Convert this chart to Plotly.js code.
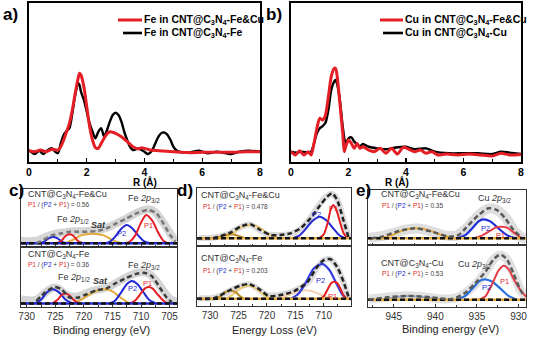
<!DOCTYPE html>
<html><head><meta charset="utf-8">
<script src="https://cdn.plot.ly/plotly-3.0.1.min.js"></script>
<style>html,body{margin:0;padding:0;background:#fff}#chart{width:533px;height:339px}</style>
</head><body><div id="chart"></div>
<script>
// ---------- panel a (Fe EXAFS) ----------
const aR_x = [0,0.2,0.4,0.6,0.8,1.0,1.1,1.2,1.3,1.4,1.5,1.6,1.7,1.75,1.8,1.9,2.0,2.1,2.2,2.3,2.4,2.5,2.6,2.7,2.8,2.9,3.0,3.2,3.4,3.6,3.8,3.9,4.0,4.2,4.5,5.0,5.5,6.0,6.5,7.0,7.5,8.0];
const aRed = [0.71,0.65,0.75,0.65,0.8,0.75,0.96,1.38,1.9,2.43,3.27,4.32,5.26,5.58,5.47,4.74,3.48,2.22,1.38,0.9,0.86,1.17,1.49,1.76,1.9,1.87,1.8,1.59,1.28,0.96,0.82,0.9,0.86,0.75,0.71,0.65,0.59,0.61,0.61,0.61,0.65,0.65];
const aK_x = [0,0.2,0.35,0.5,0.65,0.8,0.9,1.0,1.1,1.2,1.3,1.4,1.5,1.6,1.7,1.75,1.8,1.9,2.0,2.1,2.2,2.3,2.4,2.5,2.6,2.7,2.8,2.9,3.0,3.1,3.2,3.3,3.4,3.5,3.6,3.7,3.8,3.9,4.0,4.1,4.2,4.3,4.4,4.5,4.6,4.7,4.8,4.9,5.0,5.1,5.2,5.5,5.9,6.2,6.5,7.0,7.3,7.6,8.0];
const aBlk = [0.75,0.5,0.71,0.5,0.75,0.86,0.65,0.55,1.17,1.7,1.95,2.12,3.06,4.21,4.95,4.84,4.42,3.9,3.17,2.43,1.9,1.49,1.9,2.12,1.6,2.0,2.54,2.96,3.1,2.96,2.54,1.9,1.38,0.96,0.75,0.8,0.86,0.75,0.65,0.5,0.59,0.86,1.28,1.64,1.84,1.84,1.7,1.38,0.96,0.75,0.65,0.59,0.71,0.55,0.65,0.5,0.65,0.71,0.65];
// ---------- panel b (Cu EXAFS) ----------
const bR_x = [0,0.15,0.3,0.45,0.6,0.7,0.8,0.9,1.0,1.1,1.2,1.3,1.4,1.5,1.55,1.6,1.7,1.8,1.85,1.9,2.0,2.1,2.2,2.3,2.4,2.5,2.7,2.9,3.1,3.3,3.5,3.7,3.9,4.1,4.3,4.5,4.7,4.9,5.1,5.4,5.8,6.2,6.6,7.0,7.3,7.6,8.0];
const bRed = [0.65,0.44,0.71,0.44,0.65,0.44,1.17,2.12,2.75,2.64,2.96,4.11,5.37,5.89,5.89,5.47,3.69,1.8,0.65,0.96,1.38,1.17,0.86,1.17,0.86,0.96,0.75,0.65,0.86,0.55,0.86,0.5,0.92,0.8,0.65,0.75,0.55,0.65,0.44,0.5,0.44,0.5,0.44,0.38,0.55,0.44,0.48];
const bK_x = [0,0.2,0.4,0.6,0.7,0.8,0.9,1.0,1.1,1.2,1.3,1.4,1.5,1.55,1.6,1.7,1.8,1.9,2.0,2.1,2.2,2.4,2.5,2.7,3.0,3.3,3.6,4.0,4.3,4.7,5.0,5.5,6.0,6.5,7.0,7.3,7.6,8.0];
const bBlk = [0.65,0.59,0.65,0.59,0.65,1.17,1.8,2.12,2.26,2.47,3.27,4.53,5.05,5.16,4.95,3.9,2.22,1.17,1.49,1.55,1.28,1.0,1.13,0.96,0.86,0.8,0.9,0.96,0.8,0.86,0.65,0.55,0.55,0.55,0.5,0.65,0.59,0.5];

// ---------- panel c top (Fe 2p XPS, CNT@C3N4-Fe&Cu) ----------
const cT_raw_x = [731,729.5,728,726.5,725,723.5,722,720.5,719,717.5,716,714.5,713,711.5,710,708.7,707.5,706.3,705.2,704.2,703.7];
const cT_raw = [1.1,1.0,1.2,1.8,2.3,2.5,2.7,2.7,2.8,2.9,3.3,4.0,4.7,5.5,6.2,6.5,6.0,4.5,2.8,1.4,1.1];
const cT_env_x = [728.3,727.7,725.4,723.9,722.5,721.0,719.5,717.8,716.0,714.3,712.5,710.8,708.7,707.3,706.1,704.9,704.0];
const cT_env = [0.7,0.92,2.07,2.36,2.64,2.64,2.64,2.76,3.22,4.08,4.94,5.8,6.38,5.8,4.08,2.07,0.92];
const cT_p1_x = [713,712,711,710,709.1,708,707,706,705];
const cT_p1 = [0.63,0.9,2.0,4.2,5.52,4.5,2.5,1.0,0.63];
const cT_p2_x = [716.5,715.5,714.5,713.5,712.5,711.5,710.5,709.5,708.3];
const cT_p2 = [0.63,0.9,1.8,3.1,3.79,3.2,2.0,1.0,0.63];
const cT_b12_x = [728,727,726.2,725.4,724.6,723.8,723];
const cT_b12 = [0.63,0.9,1.5,1.78,1.5,0.9,0.63];
const cT_r12_x = [725,724,723.2,722.5,721.8,721,720];
const cT_r12 = [0.63,1.0,1.9,2.18,1.9,1.0,0.63];
const cT_sat_x = [723.5,722,720.5,718.5,716.5,715,713.5];
const cT_sat = [0.63,1.2,2.0,2.3,2.0,1.2,0.63];
const cT_base_x = [731,703.7];
const cT_base = [0.63,0.63];

// ---------- panel c bottom (CNT@C3N4-Fe) ----------
const cB_raw_x = [731,729.5,728.3,727,725.5,724.5,723,721.5,720,718.5,717,715.5,714,712.5,711,709.8,708.5,707.2,706,705,704.2,703.7];
const cB_raw = [1.3,1.1,1.2,2.2,3.2,3.1,2.0,1.7,2.1,2.7,3.0,3.4,4.2,5.0,5.6,5.8,5.5,4.2,2.6,1.4,1.0,0.9];
const cB_env_x = [728.3,726.8,725.1,723.9,722.5,721.0,719.5,717.8,716.0,714.3,712.5,710.8,709.3,708.1,706.7,705.5,704.6];
const cB_env = [0.98,2.4,3.33,2.95,1.58,1.58,2.13,2.79,3.11,4.04,4.86,5.52,5.68,5.14,3.22,1.58,0.76];
const cB_p1_x = [712,711,710,709.3,708.7,708,707,706,705.3];
const cB_p1 = [0.6,1.1,2.3,3.1,3.33,3.1,2.0,1.0,0.6];
const cB_p2_x = [715.5,714.5,713.5,712.5,711.6,710.6,709.6,708.6,707.4];
const cB_p2 = [0.6,1.1,2.4,3.8,4.32,3.8,2.5,1.2,0.6];
const cB_b12_x = [728.5,727.5,726.5,725.4,724.3,723.2,722];
const cB_b12 = [0.6,1.2,2.4,2.95,2.4,1.2,0.6];
const cB_r12_x = [725.5,724.6,723.9,723.3,722.6,721.8,721];
const cB_r12 = [0.6,1.2,2.0,2.24,2.0,1.2,0.6];
const cB_sat_x = [722,720.5,719,717.5,716.3,715,713.5,712];
const cB_sat = [0.6,1.2,2.1,2.8,2.95,2.6,1.5,0.6];
const cB_base_x = [731,703.7];
const cB_base = [0.6,0.6];

// ---------- panel d top (Fe L-edge EELS, CNT@C3N4-Fe&Cu) ----------
const dT_raw_x = [732,730,728.5,727,725.5,724,722.9,721.5,720,718.5,717,715.5,714,712.5,711,709.8,708.6,707.6,706.6,705.6,705];
const dT_raw = [1.4,1.4,1.6,2.0,2.8,3.5,3.7,2.9,2.0,1.9,1.9,2.2,3.0,4.7,6.8,8.3,9.0,8.0,4.8,1.8,1.4];
const dT_env_x = [732.3,729.35,726.42,724.66,722.9,721.14,719.38,717.62,715.86,714.1,712.34,710.58,709.4,708.52,707.64,706.46,705.58];
const dT_env = [1.32,1.4,2.3,3.33,3.74,2.76,1.9,1.9,2.18,3.05,4.77,7.07,8.5,9.08,7.93,4.2,1.32];
const dT_p1_x = [710.8,710,709.3,708.8,708.35,707.8,707.2,706.5,705.8];
const dT_p1 = [1.32,2.0,4.0,6.2,7.07,6.3,4.3,2.2,1.32];
const dT_p2_x = [715.5,714.3,713.2,712,710.7,709.5,708.3,707.2,706.2];
const dT_p2 = [1.32,1.8,2.9,4.3,5.05,4.4,3.0,1.8,1.32];
const dT_o1_x = [729.2,728.2,727.3,726.4,725.5,724.6,723.7];
const dT_o1 = [1.32,1.6,1.9,2.01,1.9,1.6,1.32];
const dT_o2_x = [727.8,726.2,724.6,722.9,721.2,719.6,718];
const dT_o2 = [1.32,2.0,3.2,3.62,3.1,2.0,1.32];
const dT_base_x = [732.3,705.2];
const dT_base = [1.32,1.32];

// ---------- panel d bottom (CNT@C3N4-Fe) ----------
const dB_raw_x = [732,730,728.5,727,725.5,724,723,721.5,720,718.5,717,715.5,714,712.5,711.2,710,708.8,707.6,706.5,705.6,705];
const dB_raw = [1.3,1.3,1.6,2.3,3.0,3.5,3.6,2.8,1.8,1.8,2.0,2.4,3.1,4.2,6.4,7.6,7.8,6.4,3.9,1.5,1.3];
const dB_env_x = [732.3,729.35,726.42,724.66,723.19,721.43,719.67,717.62,715.27,712.93,711.17,709.99,708.81,707.64,706.46,705.58];
const dB_env = [1.2,1.3,2.7,3.39,3.65,2.86,1.66,1.82,2.45,3.91,6.51,7.66,7.81,6.51,3.91,1.3];
const dB_p1_x = [710.8,710,709.3,708.7,708.2,707.6,707,706.4,705.8];
const dB_p1 = [1.2,1.6,2.8,3.8,4.06,3.8,2.8,1.6,1.2];
const dB_p2_x = [715.8,714.5,713.2,711.8,710.3,709,707.8,706.8,706];
const dB_p2 = [1.2,2.0,3.8,6.2,7.03,6.0,3.8,2.0,1.2];
const dB_o1_x = [729,728.2,727.3,726.4,725.5,724.7,723.9];
const dB_o1 = [1.2,1.6,2.3,2.6,2.3,1.6,1.2];
const dB_o2_x = [727.2,725.9,724.5,723.2,721.9,720.6,719.3];
const dB_o2 = [1.2,2.0,3.0,3.39,2.9,1.9,1.2];
const dB_o3_x = [718.4,716.8,715.2,713.6,712.2,710.8,709.5,708.2];
const dB_o3 = [1.2,1.6,2.2,2.6,2.5,2.0,1.5,1.2];
const dB_base_x = [732.3,705.2];
const dB_base = [1.2,1.2];

// ---------- panel e top (Cu 2p XPS, CNT@C3N4-Fe&Cu) ----------
const eT_raw_x = [948,946.5,945,943.5,942,940.5,939,937.5,936.3,935.2,934.2,933.3,932.4,931.5,930.6,929.6,929.1];
const eT_raw = [1.3,1.6,2.2,2.8,3.0,2.5,1.8,1.7,3.0,4.8,6.2,6.7,6.2,4.9,2.8,1.4,1.2];
const eT_env_x = [947.7,946.4,944.4,942.4,940.4,938.4,937.2,936.0,934.8,933.6,932.6,931.6,930.6,929.6];
const eT_env = [1.21,1.52,2.55,3.03,2.42,1.52,1.82,3.64,5.45,6.67,6.36,4.85,2.73,1.33];
const eT_p1_x = [935.4,934.4,933.4,932.7,932,931.3,930.5,929.6];
const eT_p1 = [1.21,1.7,2.6,3.2,3.33,3.1,2.2,1.21];
const eT_p2_x = [937.4,936.4,935.4,934.8,934.2,933.4,932.4,931.4,930.4];
const eT_p2 = [1.21,1.8,3.3,4.3,4.67,4.3,3.0,1.8,1.21];
const eT_sat_x = [946.6,945.2,943.8,942.4,941,939.6,938.2,937.4];
const eT_sat = [1.21,1.8,2.7,3.03,2.8,2.0,1.4,1.21];
const eT_base_x = [948.1,929.1];
const eT_base = [1.21,1.21];

// ---------- panel e bottom (CNT@C3N4-Cu) ----------
const eB_raw_x = [948,946.5,945,943.5,942,940.5,939,937.5,936.3,935.2,934,933,932.2,931.4,930.6,929.8,929.1];
const eB_raw = [1.3,1.5,1.7,1.8,1.75,1.5,1.3,1.5,2.4,3.6,5.6,7.7,8.4,7.7,5.4,2.8,1.6];
const eB_env_x = [948.0,946.0,943.2,940.4,938.0,936.4,935.2,934.0,933.0,932.2,931.4,930.6,929.8,929.3];
const eB_env = [1.18,1.54,1.79,1.54,1.28,2.31,3.85,5.64,7.69,8.46,7.69,5.38,2.82,1.79];
const eB_p1_x = [934.8,934,933.2,932.4,931.8,931.2,930.5,929.6,929];
const eB_p1 = [1.18,1.7,3.6,5.9,6.67,6.1,4.3,2.4,1.6];
const eB_p2_x = [937.4,936.4,935.4,934.7,934,933.2,932.2,931.2,930.2];
const eB_p2 = [1.18,1.8,3.2,4.2,4.46,4.1,3.0,1.8,1.18];
const eB_sat_x = [947,945.5,944.2,943.2,942,940.5,939,938];
const eB_sat = [1.18,1.4,1.7,1.79,1.7,1.45,1.25,1.18];
const eB_base_x = [948.1,929.1];
const eB_base = [1.18,1.18];

// tick labels
const rTicks = [0,2,4,6,8];
const feTicks = [730,725,720,715,710,705];
const eelsTicks = [730,725,720,715,710];
const cuTicks = [945,940,935,930];

// ---------- styles ----------
const FONT = 'Liberation Sans, Arial, Helvetica, sans-serif';
const RED = 'rgb(228,30,36)', BLUE = 'rgb(35,40,215)', ORANGE = 'rgb(228,170,60)';
const DASH = '5px,3px';
const traces = [];
function L(x, y, n, color, width, dash, opacity, shape) {
  const s = n === 1 ? '' : String(n);
  traces.push({x: x, y: y, xaxis: 'x' + s, yaxis: 'y' + s, type: 'scatter', mode: 'lines',
    line: {color: color, width: width, dash: dash || 'solid', shape: shape || 'spline', smoothing: 0.7},
    opacity: opacity == null ? 1 : opacity, hoverinfo: 'skip', showlegend: false});
}
// a, b
L(aK_x, aBlk, 1, '#000', 2.4);
L(aR_x, aRed, 1, RED, 3);
L(bK_x, bBlk, 2, '#000', 2.4);
L(bR_x, bRed, 2, RED, 3);
// c top
L(cT_raw_x, cT_raw, 3, 'rgb(185,185,185)', 8, null, 0.6);
L(cT_sat_x, cT_sat, 3, ORANGE, 2);
L(cT_b12_x, cT_b12, 3, BLUE, 2);
L(cT_r12_x, cT_r12, 3, RED, 2);
L(cT_p2_x, cT_p2, 3, BLUE, 2);
L(cT_p1_x, cT_p1, 3, RED, 2);
L(cT_base_x, cT_base, 3, BLUE, 2.5, null, 1, 'linear');
L(cT_base_x, cT_base, 3, '#111', 2.5, DASH, 1, 'linear');
L(cT_env_x, cT_env, 3, 'rgb(120,120,120)', 2.5, DASH);
// c bottom
L(cB_raw_x, cB_raw, 4, 'rgb(185,185,185)', 8, null, 0.6);
L(cB_sat_x, cB_sat, 4, ORANGE, 2);
L(cB_b12_x, cB_b12, 4, BLUE, 2);
L(cB_r12_x, cB_r12, 4, RED, 2);
L(cB_p2_x, cB_p2, 4, BLUE, 2);
L(cB_p1_x, cB_p1, 4, RED, 2);
L(cB_base_x, cB_base, 4, BLUE, 2.5, null, 1, 'linear');
L(cB_base_x, cB_base, 4, '#111', 2.5, DASH, 1, 'linear');
L(cB_env_x, cB_env, 4, 'rgb(60,60,60)', 2.5, DASH);
// d top
L(dT_raw_x, dT_raw, 5, 'rgb(190,190,190)', 6, null, 0.55);
L(dT_o2_x, dT_o2, 5, 'rgb(236,205,120)', 2);
L(dT_o1_x, dT_o1, 5, 'rgb(185,140,40)', 2);
L(dT_p2_x, dT_p2, 5, BLUE, 2);
L(dT_p1_x, dT_p1, 5, RED, 2);
L(dT_base_x, dT_base, 5, ORANGE, 2.5, null, 1, 'linear');
L(dT_base_x, dT_base, 5, '#111', 2.5, DASH, 1, 'linear');
L(dT_env_x, dT_env, 5, '#222', 2.5, DASH);
// d bottom
L(dB_raw_x, dB_raw, 6, 'rgb(190,190,190)', 6, null, 0.55);
L(dB_o3_x, dB_o3, 6, 'rgb(245,210,175)', 2);
L(dB_o2_x, dB_o2, 6, 'rgb(236,205,120)', 2);
L(dB_o1_x, dB_o1, 6, 'rgb(185,140,40)', 2);
L(dB_p2_x, dB_p2, 6, 'rgb(50,60,225)', 2.2);
L(dB_p1_x, dB_p1, 6, RED, 2);
L(dB_base_x, dB_base, 6, ORANGE, 2.5, null, 1, 'linear');
L(dB_base_x, dB_base, 6, '#111', 2.5, DASH, 1, 'linear');
L(dB_env_x, dB_env, 6, '#222', 2.5, DASH);
// e top
L(eT_raw_x, eT_raw, 7, 'rgb(195,195,195)', 10, null, 0.55);
L(eT_sat_x, eT_sat, 7, ORANGE, 2);
L(eT_p2_x, eT_p2, 7, 'rgb(30,45,215)', 2.2);
L(eT_p1_x, eT_p1, 7, 'rgb(230,60,70)', 2);
L(eT_base_x, eT_base, 7, ORANGE, 2.5, null, 1, 'linear');
L(eT_base_x, eT_base, 7, '#111', 2.5, DASH, 1, 'linear');
L(eT_env_x, eT_env, 7, 'rgb(90,90,90)', 2.5, DASH);
// e bottom
L(eB_raw_x, eB_raw, 8, 'rgb(195,195,195)', 9, null, 0.5);
L(eB_sat_x, eB_sat, 8, 'rgb(150,170,200)', 2);
L(eB_p2_x, eB_p2, 8, 'rgb(40,110,220)', 2.2);
L(eB_p1_x, eB_p1, 8, 'rgb(230,60,70)', 2);
L(eB_base_x, eB_base, 8, ORANGE, 2.5, null, 1, 'linear');
L(eB_base_x, eB_base, 8, '#111', 2.5, DASH, 1, 'linear');
L(eB_env_x, eB_env, 8, 'rgb(90,90,90)', 2.5, DASH);

// ---------- layout ----------
const W = 533, H = 339;
const dx = (a, b) => [a / W, b / W];
const dy = (top, bot) => [1 - bot / H, 1 - top / H];
function rAxis(dom, anchor) {
  return {domain: dom, anchor: anchor, range: [0, 8], tickmode: 'array', tickvals: rTicks,
    ticks: 'inside', ticklen: 4, tickwidth: 1.3, tickcolor: '#000',
    minor: {tickvals: [1, 3, 5, 7], ticks: 'inside', ticklen: 3, tickwidth: 1.1, tickcolor: '#000'},
    showline: true, mirror: true, linecolor: '#000', linewidth: 1.6,
    showgrid: false, zeroline: false,
    tickfont: {family: FONT, size: 10.5, weight: 'bold', color: '#000'}};
}
function eAxis(dom, anchor, range, tv, labels) {
  return {domain: dom, anchor: anchor, range: range, tickmode: 'array', tickvals: tv,
    ticks: 'inside', ticklen: 3, tickwidth: 1, tickcolor: '#333',
    minor: {dtick: 2.5, ticks: 'inside', ticklen: 2, tickwidth: 1, tickcolor: '#333'},
    showline: true, mirror: true, linecolor: '#333', linewidth: 1.3,
    showgrid: false, zeroline: false, showticklabels: labels,
    tickfont: {family: FONT, size: 10, color: '#333'}};
}
function yAx(dom, anchor, lw, lc) {
  return {domain: dom, anchor: anchor, range: [0, 10], showline: true, mirror: true,
    linecolor: lc, linewidth: lw, ticks: '', showticklabels: false, showgrid: false, zeroline: false, fixedrange: true};
}
const cR = [731, 703.7], dR = [732.3, 705.2], eR = [948.1, 929.1];
const layout = {
  width: W, height: H, margin: {l: 0, r: 0, t: 0, b: 0},
  paper_bgcolor: '#fff', plot_bgcolor: 'rgba(0,0,0,0)', showlegend: false,
  font: {family: FONT},
  xaxis: rAxis(dx(29, 260), 'y'), yaxis: yAx(dy(3, 162), 'x', 1.6, '#000'),
  xaxis2: rAxis(dx(291, 521), 'y2'), yaxis2: yAx(dy(3, 162), 'x2', 1.6, '#000'),
  xaxis3: eAxis(dx(21, 177), 'y3', cR, feTicks, false), yaxis3: yAx(dy(189, 247), 'x3', 1.3, '#333'),
  xaxis4: eAxis(dx(21, 177), 'y4', cR, feTicks, true), yaxis4: yAx(dy(247, 307), 'x4', 1.3, '#333'),
  xaxis5: eAxis(dx(197, 351), 'y5', dR, eelsTicks, false), yaxis5: yAx(dy(188, 246), 'x5', 1.3, '#333'),
  xaxis6: eAxis(dx(197, 351), 'y6', dR, eelsTicks, true), yaxis6: yAx(dy(246, 306), 'x6', 1.3, '#333'),
  xaxis7: eAxis(dx(368, 526), 'y7', eR, cuTicks, false), yaxis7: yAx(dy(190, 245), 'x7', 1.3, '#333'),
  xaxis8: eAxis(dx(368, 526), 'y8', eR, cuTicks, true), yaxis8: yAx(dy(245, 307), 'x8', 1.3, '#333'),
  annotations: [], shapes: []
};
function ann(text, px, py, size, color, opts) {
  const o = Object.assign({xref: 'paper', yref: 'paper', x: px / W, y: 1 - py / H, xanchor: 'left', yanchor: 'middle',
    showarrow: false, text: text, borderpad: 0,
    font: {family: FONT, size: size, color: color}}, opts || {});
  if (opts && opts.weight) { o.font.weight = opts.weight; delete o.weight; }
  layout.annotations.push(o);
}
function key(x0, x1, py, color, w) {
  layout.shapes.push({type: 'line', xref: 'paper', yref: 'paper', x0: x0 / W, x1: x1 / W, y0: 1 - py / H, y1: 1 - py / H,
    line: {color: color, width: w}});
}
const C34 = 'CNT@C<sub>3</sub>N<sub>4</sub>';
const R1 = '<span style="color:rgb(228,30,36)">P1</span>', B2 = '<span style="color:rgb(35,40,215)">P2</span>';
const ratio = v => R1 + ' / (' + B2 + ' + ' + R1 + ') = ' + v;
// panel labels
ann('a)', 2, 15, 17, '#000', {weight: 'bold'});
ann('b)', 265, 15, 17, '#000', {weight: 'bold'});
ann('c)', 8, 190, 17, '#000', {weight: 'bold'});
ann('d)', 176, 190, 17, '#000', {weight: 'bold'});
ann('e)', 355, 190, 17, '#000', {weight: 'bold'});
// legends a, b
key(118, 142, 20, RED, 3); key(123, 142, 33, '#000', 2.6);
ann('Fe in ' + C34 + '-Fe&amp;Cu', 143, 20, 10.5, '#000', {weight: 'bold'});
ann('Fe in ' + C34 + '-Fe', 143, 33, 10.5, '#000', {weight: 'bold'});
key(380, 403, 20, RED, 3); key(383, 403, 33, '#000', 2.6);
ann('Cu in ' + C34 + '-Fe&amp;Cu', 404, 20, 10.5, '#000', {weight: 'bold'});
ann('Cu in ' + C34 + '-Cu', 404, 33, 10.5, '#000', {weight: 'bold'});
// axis titles
ann('R (Å)', 145, 182, 10, '#000', {xanchor: 'center', weight: 'bold'});
ann('R (Å)', 397, 182, 10, '#000', {xanchor: 'center', weight: 'bold'});
ann('Binding energy (eV)', 101, 330, 11, '#222', {xanchor: 'center'});
ann('Energy Loss (eV)', 274, 330, 11, '#222', {xanchor: 'center'});
ann('Binding energy (eV)', 450, 329, 11, '#222', {xanchor: 'center'});
// c texts
ann(C34 + '-Fe&amp;Cu', 27, 194.5, 9, '#333');
ann(ratio('0.56'), 27, 205, 6.5, '#444');
ann('Fe <i>2p</i><sub>3/2</sub>', 127, 198, 9, '#333');
ann('Fe <i>2p</i><sub>1/2</sub>', 56, 219, 9, '#333');
ann('<i>Sat</i>', 90, 225, 9, '#333', {weight: 'bold'});
ann('P2', 116, 233, 7.5, BLUE);
ann('P1', 143, 225, 7.5, RED);
ann(C34 + '-Fe', 27, 254, 9, '#333');
ann(ratio('0.36'), 27, 264.5, 6.5, '#444');
ann('Fe <i>2p</i><sub>3/2</sub>', 127, 265, 9, '#333');
ann('Fe <i>2p</i><sub>1/2</sub>', 57, 277, 9, '#333');
ann('<i>Sat</i>', 92, 281, 9, '#333', {weight: 'bold'});
ann('P2', 127, 288, 7.5, BLUE);
ann('P1', 142, 283, 7.5, RED);
// d texts
ann(C34 + '-Fe&amp;Cu', 200, 195.5, 9, '#333');
ann(ratio('0.478'), 202, 207, 6.5, '#444');
ann('P2', 311, 215, 7.5, BLUE);
ann('P1', 328, 208, 7.5, RED);
ann(C34 + '-Fe', 200, 258.5, 9, '#333');
ann(ratio('0.203'), 202, 271, 6.5, '#444');
ann('P2', 315, 280, 7.5, BLUE);
ann('P1', 327, 296, 7.5, RED);
// e texts
ann(C34 + '-Fe&amp;Cu', 380, 194.5, 9, '#333');
ann(ratio('0.35'), 381, 205.5, 6.5, '#444');
ann('Cu <i>2p</i><sub>3/2</sub>', 477, 198, 9, '#333');
ann('P2', 480, 228, 7.5, BLUE);
ann('P1', 495, 235, 7.5, RED);
ann(C34 + '-Cu', 380, 263, 9, '#333');
ann(ratio('0.53'), 381, 274, 6.5, '#444');
ann('Cu <i>2p</i><sub>3/2</sub>', 457, 264, 9, '#333');
ann('P2', 481, 287, 7.5, BLUE);
ann('P1', 499, 281, 7.5, RED);

Plotly.newPlot('chart', traces, layout, {staticPlot: true, displayModeBar: false});
</script></body></html>
